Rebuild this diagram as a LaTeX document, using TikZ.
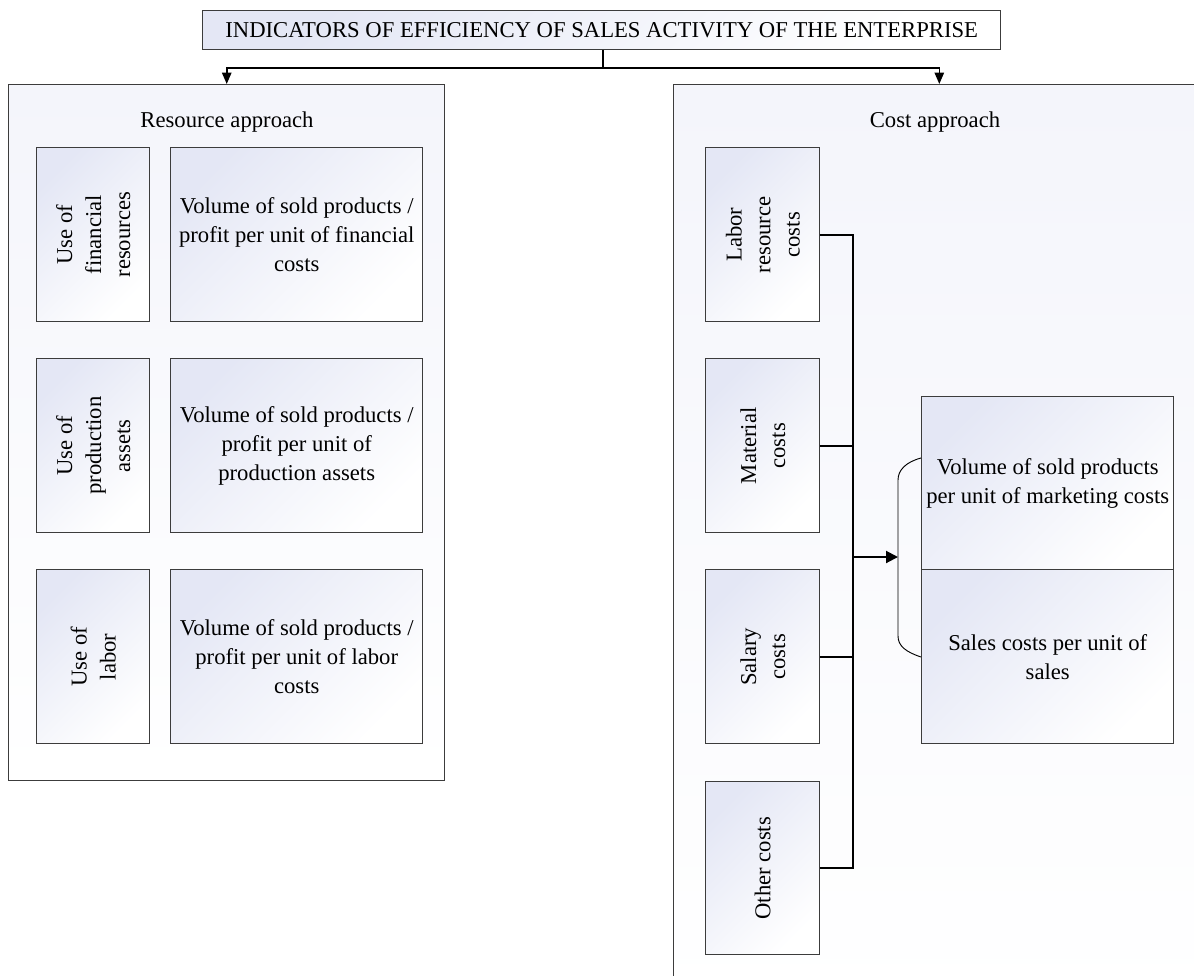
\documentclass[tikz,border=0pt]{standalone}
\usepackage{fontspec}
\setmainfont{Liberation Serif}
\usetikzlibrary{arrows.meta}
\definecolor{tint}{RGB}{228,231,245}
\definecolor{tintmid}{RGB}{244,245,251}
\definecolor{edge}{RGB}{60,60,60}
\begin{document}
\begin{tikzpicture}[x=0.75pt,y=-0.75pt,
  txt/.style={font=\fontsize{17}{21.75}\selectfont, align=center, inner sep=0pt},
  bx/.style={draw=edge, line width=1.1pt, top color=tint, middle color=tintmid,
    bottom color=white, shading angle=45, inner sep=0pt, anchor=north west,
    font=\fontsize{17}{21.75}\selectfont, align=center},
  frame/.style={bx, top color=tintmid, middle color=tintmid!50!white,
    bottom color=white},
  wh/.style 2 args={minimum width={#1*0.75pt}, minimum height={#2*0.75pt}},
  conn/.style={line width=1.2pt, black},
  tip/.style={-{Triangle[width=7pt,length=8.5pt]}},
  brace/.style={line width=0.7pt, black}]
\useasboundingbox (0,0) rectangle (1194,975);
\clip (0,0) rectangle (1194,975);

% title
\node[bx, wh={798}{39}] (tit) at (202,10)
  {INDICATORS OF EFFICIENCY OF SALES ACTIVITY OF THE ENTERPRISE};

% containers
\node[frame, wh={436}{696}] (res) at (8,84) {};
\node[frame, wh={525}{920}] (cost) at (673,84) {};
\node[txt] (rest) at (227,122) {Resource approach};
\node[txt] (costt) at (935,122) {Cost approach};

% resource approach
\node[bx, wh={113}{174}] (fin) at (36,147) {};
\node[txt, rotate=90] (fint) at (fin) {Use of\\financial\\resources};
\node[bx, wh={252}{174}] (finv) at (170,147)
  {Volume of sold products /\\profit per unit of financial\\costs};
\node[bx, wh={113}{174}] (prod) at (36,358) {};
\node[txt, rotate=90] (prodt) at (prod) {Use of\\production\\assets};
\node[bx, wh={252}{174}] (prodv) at (170,358)
  {Volume of sold products /\\profit per unit of\\production assets};
\node[bx, wh={113}{174}] (lab) at (36,569) {};
\node[txt, rotate=90] (labt) at (lab) {Use of\\labor};
\node[bx, wh={252}{174}] (labv) at (170,569)
  {Volume of sold products /\\profit per unit of labor\\costs};

% cost approach
\node[bx, wh={114}{174}] (lrc) at (705,147) {};
\node[txt, rotate=90] (lrct) at (lrc) {Labor\\resource\\costs};
\node[bx, wh={114}{174}] (mat) at (705,358) {};
\node[txt, rotate=90] (matt) at (mat) {Material\\costs};
\node[bx, wh={114}{174}] (sal) at (705,569) {};
\node[txt, rotate=90] (salt) at (sal) {Salary\\costs};
\node[bx, wh={114}{173}] (oth) at (705,781) {};
\node[txt, rotate=90] (otht) at (oth) {Other costs};

\node[bx, wh={252}{173}] (vol) at (921,396)
  {Volume of sold products\\per unit of marketing costs};
\node[bx, wh={252}{174}] (scu) at (921,569)
  {Sales costs per unit of\\sales};

% connectors from the title
\coordinate (split) at (603,68);
\draw[conn] (tit.south -| split) -- (split);
\draw[conn, tip] (split) -| (res.north);
\draw[conn, tip] (split) -| ([xshift=2.3pt]cost.north);

% collecting bus
\coordinate (busx) at (853,0);
\draw[conn] (lrc.east) -- (lrc.east -| busx) -- (oth.east -| busx) -- (oth.east);
\draw[conn] (mat.east) -- (mat.east -| busx);
\draw[conn] (sal.east) -- (sal.east -| busx);

% bracket grouping the two indicators
\coordinate (bt) at (921,458);
\coordinate (bb) at (921,657);
\coordinate (bin) at (898,557);
\draw[brace] (bt) .. controls (906,462) and (898,470) .. (898,480)
  -- (898,636) .. controls (898,646) and (906,652) .. (bb);
\draw[conn, line width=1.5pt, -{Triangle[width=9pt,length=9pt]}] (bin -| busx) -- (bin);
\end{tikzpicture}
\end{document}
